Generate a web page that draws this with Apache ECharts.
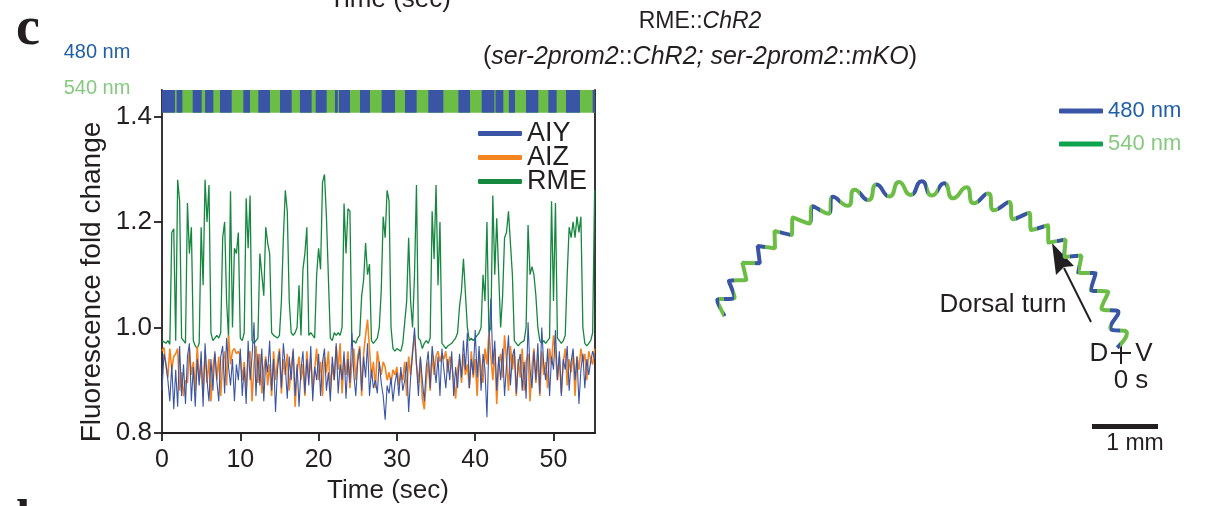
<!DOCTYPE html>
<html>
<head>
<meta charset="utf-8">
<title>RME::ChR2</title>
<script src="https://cdn.jsdelivr.net/npm/echarts@6/dist/echarts.min.js"></script>
<style>
  html, body { margin: 0; padding: 0; background: #fff; }
  #main { width: 1210px; height: 506px; }
</style>
</head>
<body>
<div id="main"></div>
<script>
// sampling step of the calcium traces (sec)
const SAMPLE_DT = 0.25;
const X_MAX = 55.3;
const X_TICKS = [0, 10, 20, 30, 40, 50];
const Y_TICKS = [0.8, 1.0, 1.2, 1.4];

// light stimulus: 480 nm (blue) on-intervals, 540 nm (green) otherwise
const STIM_480 = [[0.0, 1.66], [1.87, 2.6], [3.92, 5.07], [5.5, 6.56], [7.41, 8.9], [10.39, 11.24],
  [12.3, 13.79], [15.07, 16.56], [17.62, 19.11], [19.63, 21.03], [22.09, 22.45], [22.6, 24.01],
  [25.29, 26.56], [28.05, 29.76], [31.03, 32.52], [34.01, 35.93], [37.85, 39.34], [40.83, 42.45],
  [42.6, 43.59], [44.3, 45.08], [46.49, 48.06], [49.34, 50.4], [51.6, 53.38], [55.0, 55.3]];

const RME = [
  0.975,0.972,0.97,0.975,0.968,1.18,1.187,0.975,1.28,1.24,0.98,0.975,0.97,1.236,1.14,1.19,0.975,0.965,0.96,0.97,
  1.19,1.08,1.28,1.2,1.27,0.99,0.975,0.98,0.985,0.98,0.99,1.17,1.2,1.05,0.98,1.258,1.0,1.15,1.14,1.18,
  0.98,0.975,0.99,1.245,1.15,1.25,0.975,0.97,0.975,0.98,1.14,1.1,1.06,1.19,1.16,1.14,0.99,0.985,0.985,0.98,
  0.985,1.05,1.17,1.26,1.22,1.05,0.99,0.985,0.99,1.0,1.08,0.985,1.11,1.14,1.19,0.985,0.99,0.985,0.98,1.1,
  1.15,1.11,1.275,1.29,1.21,1.21,0.98,0.975,0.99,0.985,0.99,0.985,1.0,1.235,1.14,1.225,1.22,0.97,0.975,0.97,
  0.98,0.985,1.06,1.09,1.16,1.1,1.12,0.975,0.97,0.97,0.98,1.0,1.07,1.21,1.17,1.26,1.24,1.0,0.96,0.955,
  0.96,0.96,0.955,0.97,0.97,1.05,1.17,1.05,1.0,1.1,1.27,0.98,0.975,0.96,0.97,0.975,0.97,0.98,1.22,1.13,
  1.27,1.08,1.2,0.97,0.965,0.96,0.965,0.965,0.97,0.975,0.98,0.99,1.04,1.07,1.13,1.13,1.0,0.975,0.98,0.975,
  0.98,0.985,0.99,1.0,1.1,1.05,1.2,0.99,1.0,1.25,1.1,1.207,1.1,1.0,1.06,1.17,1.18,1.22,1.22,1.1,
  0.975,0.97,0.965,0.97,0.97,0.975,1.0,1.194,1.1,1.115,1.1,1.06,1.0,0.975,0.97,0.975,0.97,0.975,0.98,1.239,
  1.05,1.236,0.98,0.975,0.97,0.975,0.985,1.1,1.19,1.17,1.2,1.17,1.21,1.18,1.21,1.0,0.97,0.965,0.97,0.975,
  0.99,1.26
];

const AIZ = [
  0.955,0.962,0.93,0.905,0.96,0.92,0.945,0.95,0.96,0.88,0.915,0.87,0.9,0.895,0.96,0.91,0.935,0.88,0.965,0.9,
  0.93,0.87,0.955,0.895,0.94,0.86,0.925,0.95,0.9,0.945,0.87,0.935,0.955,0.89,0.985,0.93,0.955,0.96,0.95,0.955,
  0.945,0.9,0.935,0.88,0.94,0.955,0.86,0.93,0.965,0.895,0.95,0.875,0.92,0.945,0.89,0.93,0.87,0.955,0.9,0.935,
  0.96,0.875,0.94,0.91,0.95,0.88,0.925,0.955,0.85,0.915,0.945,0.9,0.93,0.87,0.955,0.905,0.94,0.88,0.92,0.96,
  0.9,0.935,0.87,0.945,0.915,0.955,0.88,0.93,0.9,0.965,0.92,0.97,0.875,0.94,0.91,0.955,0.885,0.93,0.96,0.9,
  0.945,0.965,0.87,0.95,0.985,1.015,0.96,0.905,0.935,0.885,0.955,0.93,0.91,0.935,0.925,0.9,0.915,0.895,0.92,0.91,
  0.925,0.89,0.915,0.9,0.935,0.87,0.945,0.91,0.955,0.985,0.93,0.895,0.94,0.865,0.845,0.9,0.935,0.88,0.95,0.91,
  0.945,0.955,0.935,0.95,0.94,0.955,0.915,0.945,0.93,0.9,0.865,0.92,0.94,0.895,0.95,0.91,0.93,0.885,0.955,0.905,
  0.94,0.87,0.955,0.92,0.895,0.96,0.93,0.99,0.945,0.9,0.96,0.855,0.93,0.95,0.905,0.985,0.94,0.88,0.965,0.92,
  0.955,0.87,0.94,0.905,0.96,0.88,0.935,0.95,0.86,0.925,0.96,0.895,0.945,0.87,0.955,0.91,0.935,0.885,0.96,0.93,
  0.985,0.955,0.9,0.945,0.875,0.935,0.96,0.89,0.94,0.915,0.955,0.87,0.945,0.92,0.96,0.935,0.95,0.9,0.955,0.94,
  0.93,0.96
];

const AIY = [
  0.88,0.95,0.93,0.9,0.86,0.93,0.845,0.92,0.85,0.965,0.87,0.93,0.855,0.945,0.97,0.86,0.925,0.85,0.94,0.89,
  0.955,0.85,0.97,0.9,0.86,0.94,0.88,0.955,0.9,0.86,0.945,0.965,0.875,0.98,0.925,0.89,0.94,0.86,0.93,0.9,
  0.96,0.87,0.925,0.855,0.975,0.9,0.945,1.01,0.87,0.95,0.89,0.96,0.86,0.94,0.915,0.975,0.88,0.94,0.84,0.92,
  0.955,0.885,0.97,0.925,0.865,0.945,0.9,0.96,0.87,0.93,0.85,0.92,0.955,0.875,0.94,0.89,0.965,0.86,0.925,0.9,
  0.95,0.87,0.935,0.96,0.88,0.915,0.86,0.945,0.9,0.97,0.875,0.93,0.9,0.955,0.865,0.94,0.895,0.99,0.91,0.87,
  0.935,0.96,0.88,0.945,0.905,0.97,0.87,0.92,0.885,0.9,0.875,0.935,0.895,0.87,0.825,0.89,0.875,0.905,0.86,0.895,
  0.915,0.87,0.925,0.88,0.9,0.935,0.84,0.905,0.95,1.0,0.93,0.87,0.945,0.9,0.86,0.925,0.955,0.885,0.965,0.93,
  0.895,0.945,0.87,0.96,0.92,0.885,0.94,0.9,0.955,0.87,0.925,0.885,0.95,0.905,0.975,0.92,0.99,0.885,0.94,0.91,
  0.995,0.905,0.965,0.88,0.95,0.92,0.83,0.97,1.055,0.93,0.975,0.88,0.945,0.9,0.96,0.87,0.93,0.985,0.89,0.945,
  0.96,0.875,0.93,0.95,0.88,0.935,0.865,1.01,0.92,0.885,0.955,0.9,0.97,0.875,1.0,0.93,0.9,0.96,0.87,0.945,
  0.92,0.995,0.9,0.955,0.87,0.94,0.92,0.965,0.88,0.935,0.96,0.9,0.945,0.855,0.92,0.95,0.885,0.94,0.91,0.935,
  0.955,0.94
];

// worm track (units of the track panel), crest / trough points of the body wave
const TRACK = [
  [0.509,2.203],[0.401,2.436],[0.655,2.479],[0.572,2.722],[0.828,2.739],[0.770,2.990],[1.027,2.981],
  [0.995,3.236],[1.250,3.201],[1.243,3.457],[1.493,3.397],[1.512,3.653],[1.755,3.568],[1.800,3.821],
  [2.033,3.711],[2.103,3.958],[2.323,3.826],[2.419,4.064],[2.625,3.910],[2.743,4.138],[2.932,3.964],
  [3.074,4.178],[3.244,3.986],[3.407,4.186],[3.557,3.977],[3.738,4.159],[3.867,3.936],[4.066,4.099],
  [4.171,3.864],[4.385,4.006],[4.467,3.762],[4.694,3.881],[4.750,3.630],[4.989,3.726],[5.019,3.471],
  [5.266,3.542],[5.270,3.285],[5.523,3.330],[5.502,3.074],[5.758,3.094],[5.710,2.842],[5.967,2.835],
  [5.895,2.589],[6.150,2.557],[6.052,2.319],[6.303,2.261],[6.182,2.034],[6.425,1.952],[6.282,1.738]
];
// stretches of the track lit with 480 nm (by horizontal position)
const TRACK_480 = [[0.3,0.42],[0.5,0.64],[0.96,1.1],[1.32,1.47],[1.79,1.91],[2.08,2.21],[2.5,2.6],
  [2.74,2.89],[3.28,3.48],[3.65,3.77],[4.24,4.36],[4.53,4.68],[4.8,4.95],[5.1,5.2],[5.39,5.49],
  [5.59,5.71],[5.88,5.98],[6.18,6.32]];

const BLUE = '#3a55a6';
const GREEN = '#6cbd45';
const INK = '#231f20';
const FONT = '"Liberation Sans", Arial, sans-serif';

function toPairs(vals) {
  return vals.map((v, i) => [i * SAMPLE_DT, v]);
}

let chart = echarts.init(document.getElementById('main'));

let option = {
  animation: false,
  backgroundColor: '#fff',
  grid: [
    { left: 162, top: 90, width: 433, height: 343 },
    { left: 690, top: 160, width: 510, height: 306 }
  ],
  xAxis: [
    {
      gridIndex: 0, type: 'value', min: 0, max: X_MAX, interval: 10,
      axisLine: { lineStyle: { color: INK, width: 1.8 } },
      axisTick: { length: 8, lineStyle: { color: INK, width: 1.8 }, customValues: X_TICKS },
      axisLabel: { color: INK, fontSize: 25, fontFamily: FONT, margin: 15, customValues: X_TICKS },
      splitLine: { show: false }
    },
    { gridIndex: 1, type: 'value', min: 0, max: 7.5, show: false }
  ],
  yAxis: [
    {
      gridIndex: 0, type: 'value', min: 0.8, max: 1.45, interval: 0.2,
      axisLine: { lineStyle: { color: INK, width: 1.8 } },
      axisTick: { length: 8, lineStyle: { color: INK, width: 1.8 }, customValues: Y_TICKS },
      axisLabel: { color: INK, fontSize: 26, fontFamily: FONT, margin: 10, customValues: Y_TICKS,
        formatter: v => v.toFixed(1) },
      splitLine: { show: false }
    },
    {
      gridIndex: 0, type: 'value', position: 'right',
      axisLine: { show: true, lineStyle: { color: INK, width: 1.8 } },
      axisTick: { show: false }, axisLabel: { show: false }, splitLine: { show: false }
    },
    { gridIndex: 1, type: 'value', min: 0, max: 4.5, show: false }
  ],
  legend: [
    {
      data: ['AIY', 'AIZ', 'RME'], orient: 'vertical', left: 473, top: 115,
      icon: 'roundRect', itemWidth: 44, itemHeight: 5, itemGap: -3, selectedMode: false,
      textStyle: { color: INK, fontSize: 27, fontFamily: FONT }
    },
    {
      data: [
        { name: '480 nm', textStyle: { color: '#1f5fa5' } },
        { name: '540 nm', textStyle: { color: '#86c97f' } }
      ],
      orient: 'vertical', left: 1054, top: 95,
      icon: 'roundRect', itemWidth: 44, itemHeight: 5, itemGap: 11, selectedMode: false,
      textStyle: { fontSize: 22, fontFamily: FONT }
    }
  ],
  visualMap: {
    type: 'piecewise', show: false, seriesIndex: 4, dimension: 0,
    pieces: TRACK_480.map(([a, b]) => ({ gte: a, lt: b, color: BLUE })),
    outOfRange: { color: GREEN }
  },
  series: [
    {
      type: 'custom', name: 'stimulus', xAxisIndex: 0, yAxisIndex: 0, silent: true,
      data: [[0, X_MAX, 0]].concat(STIM_480.map(([a, b]) => [a, b, 1])),
      encode: { x: [0, 1] },
      renderItem: function (params, api) {
        let p0 = api.coord([api.value(0), 1.45]);
        let p1 = api.coord([api.value(1), 1.407]);
        return {
          type: 'rect',
          shape: { x: p0[0], y: p0[1], width: p1[0] - p0[0], height: p1[1] - p0[1] },
          style: { fill: api.value(2) === 1 ? BLUE : GREEN }
        };
      }
    },
    {
      type: 'line', name: 'RME', data: toPairs(RME), showSymbol: false, symbol: 'none',
      lineStyle: { color: '#16873f', width: 1.3 }, itemStyle: { color: '#16873f' }
    },
    {
      type: 'line', name: 'AIZ', data: toPairs(AIZ), showSymbol: false, symbol: 'none',
      lineStyle: { color: '#f5841f', width: 1.6 }, itemStyle: { color: '#f5841f' }
    },
    {
      type: 'line', name: 'AIY', data: toPairs(AIY), showSymbol: false, symbol: 'none',
      lineStyle: { color: BLUE, width: 1.1 }, itemStyle: { color: BLUE }
    },
    {
      type: 'line', name: 'track', xAxisIndex: 1, yAxisIndex: 2, data: TRACK,
      smooth: 0.6, symbol: 'none', lineStyle: { width: 4 }
    },
    {
      type: 'line', name: '480 nm', xAxisIndex: 1, yAxisIndex: 2, data: [],
      itemStyle: { color: BLUE }, lineStyle: { color: BLUE }
    },
    {
      type: 'line', name: '540 nm', xAxisIndex: 1, yAxisIndex: 2, data: [],
      itemStyle: { color: '#0ca54e' }, lineStyle: { color: '#0ca54e' }
    }
  ],
  graphic: [
    { type: 'text', x: 16, y: 30, style: { text: 'c', font: 'bold 54px "Liberation Serif", serif', fill: INK, align: 'left', verticalAlign: 'middle' } },
    { type: 'text', x: 2, y: 496, style: { text: 'd', font: 'bold 50px "Liberation Serif", serif', fill: INK, align: 'left', verticalAlign: 'top' } },
    { type: 'text', x: 390, y: 0, style: { text: 'Time (sec)', font: '26px ' + FONT, fill: INK, align: 'center', verticalAlign: 'middle' } },
    { type: 'text', x: 97, y: 52, style: { text: '480 nm', font: '20px ' + FONT, fill: '#1f5fa5', align: 'center', verticalAlign: 'middle' } },
    { type: 'text', x: 97, y: 88, style: { text: '540 nm', font: '20px ' + FONT, fill: '#86c97f', align: 'center', verticalAlign: 'middle' } },
    {
      type: 'text', x: 700, y: 22,
      style: {
        text: 'RME::{i|ChR2}', fontSize: 23, fontFamily: FONT, fill: INK, align: 'center', verticalAlign: 'middle',
        rich: { i: { fontStyle: 'italic', fontSize: 23, fontFamily: FONT, fill: INK } }
      }
    },
    {
      type: 'text', x: 700, y: 57,
      style: {
        text: '({i|ser-2prom2}::{i|ChR2; ser-2prom2}::{i|mKO})', fontSize: 25, fontFamily: FONT, fill: INK,
        align: 'center', verticalAlign: 'middle',
        rich: { i: { fontStyle: 'italic', fontSize: 25, fontFamily: FONT, fill: INK } }
      }
    },
    { type: 'text', x: 92, y: 282, rotation: Math.PI / 2, style: { text: 'Fluorescence fold change', font: '28px ' + FONT, fill: INK, align: 'center', verticalAlign: 'middle' } },
    { type: 'text', x: 388, y: 491, style: { text: 'Time (sec)', font: '26px ' + FONT, fill: INK, align: 'center', verticalAlign: 'middle' } },
    { type: 'text', x: 1003, y: 305, style: { text: 'Dorsal turn', font: '26px ' + FONT, fill: INK, align: 'center', verticalAlign: 'middle' } },
    { type: 'line', shape: { x1: 1091, y1: 322, x2: 1064, y2: 268 }, style: { stroke: INK, lineWidth: 2 } },
    { type: 'polygon', shape: { points: [[1052, 243], [1074, 266], [1064, 267], [1056, 275]] }, style: { fill: INK } },
    { type: 'line', shape: { x1: 1111, y1: 353, x2: 1131, y2: 353 }, style: { stroke: INK, lineWidth: 2 } },
    { type: 'line', shape: { x1: 1121, y1: 343, x2: 1121, y2: 364 }, style: { stroke: INK, lineWidth: 2 } },
    { type: 'text', x: 1099, y: 354, style: { text: 'D', font: '26px ' + FONT, fill: INK, align: 'center', verticalAlign: 'middle' } },
    { type: 'text', x: 1144, y: 354, style: { text: 'V', font: '26px ' + FONT, fill: INK, align: 'center', verticalAlign: 'middle' } },
    { type: 'text', x: 1131, y: 381, style: { text: '0 s', font: '26px ' + FONT, fill: INK, align: 'center', verticalAlign: 'middle' } },
    { type: 'rect', shape: { x: 1092, y: 424, width: 66, height: 5 }, style: { fill: INK } },
    { type: 'text', x: 1135, y: 444, style: { text: '1 mm', font: '23px ' + FONT, fill: INK, align: 'center', verticalAlign: 'middle' } }
  ]
};

chart.setOption(option);
</script>
</body>
</html>
